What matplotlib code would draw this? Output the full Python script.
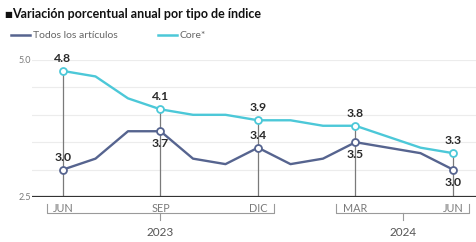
import matplotlib.pyplot as plt
import matplotlib.transforms as mtransforms

plt.rcParams['font.family'] = ['Lato', 'DejaVu Sans']

# datos (jun 2023 - jun 2024)
meses = ['JUN', 'JUL', 'AGO', 'SEP', 'OCT', 'NOV', 'DIC', 'ENE', 'FEB', 'MAR', 'ABR', 'MAY', 'JUN']
todos = [3.0, 3.2, 3.7, 3.7, 3.2, 3.1, 3.4, 3.1, 3.2, 3.5, 3.4, 3.3, 3.0]
core = [4.8, 4.7, 4.3, 4.1, 4.0, 4.0, 3.9, 3.9, 3.8, 3.8, 3.6, 3.4, 3.3]
marcados = [0, 3, 6, 9, 12]
todos_abajo = [3, 9, 12]   # etiquetas de "todos" debajo del punto
anios = ['2023', '2024']
anios_rango = [(-0.5, 6.5), (8.4, 12.5)]

c_todos = '#56648f'
c_core = '#4cc8d8'
gris = '#7a7a7a'
texto = '#2b2b2b'

W, H = 477, 242
fig = plt.figure(figsize=(W / 100, H / 100), dpi=100)
ax = fig.add_axes([32 / W, 45 / H, 445 / W, 137 / H])

x = list(range(len(meses)))
ax.set_xlim(-31 / 32.5, 12 + 24 / 32.5)
ax.set_ylim(2.5, 5.0)

for v in [3.0, 3.5, 4.0, 4.5, 5.0]:
    ax.axhline(v, color='#ececec', lw=0.8, zorder=0)

for i in marcados:
    ax.plot([i, i], [2.5, core[i]], color=gris, lw=0.9, zorder=1)

ax.plot(x, todos, color=c_todos, lw=1.7, zorder=2)
ax.plot(x, core, color=c_core, lw=1.7, zorder=2)
ax.plot(marcados, [todos[i] for i in marcados], 'o', ms=5, mfc='white', mec=c_todos, mew=1.3, zorder=3)
ax.plot(marcados, [core[i] for i in marcados], 'o', ms=5, mfc='white', mec=c_core, mew=1.3, zorder=3)

for i in marcados:
    ax.annotate(f'{core[i]:.1f}', (i, core[i]), xytext=(0, 5), textcoords='offset points',
                ha='center', va='bottom', fontsize=8.8, fontweight='bold', color=texto)
    dy = -5 if i in todos_abajo else 5
    ax.annotate(f'{todos[i]:.1f}', (i, todos[i]), xytext=(0, dy), textcoords='offset points',
                ha='center', va='top' if dy < 0 else 'bottom', fontsize=8.8, fontweight='bold', color=texto)

ax.axhline(2.5, color='#333333', lw=1.6, zorder=4)

for s in ax.spines.values():
    s.set_visible(False)
ax.set_xticks([])
ax.set_yticks([])

# etiquetas eje y
for v in [2.5, 5.0]:
    ax.text(-0.99, v, f'{v:.1f}', ha='right', va='center', fontsize=6.5, color=gris)

tr = mtransforms.blended_transform_factory(ax.transData, fig.transFigure)
def fy(py):
    return 1 - py / H

for i in marcados:
    ax.text(i, fy(208), meses[i], ha='center', va='center', fontsize=7.8, color=gris, transform=tr)

for anio, (a, b) in zip(anios, anios_rango):
    ax.plot([a, a, b, b], [fy(204), fy(213), fy(213), fy(204)], color='#9a9a9a', lw=0.8,
            transform=tr, clip_on=False)
    m = (a + b) / 2
    ax.plot([m, m], [fy(213), fy(220)], color='#9a9a9a', lw=0.8, transform=tr, clip_on=False)
    ax.text(m, fy(233), anio, ha='center', va='center', fontsize=8.5, color='#555555', transform=tr)

# titulo y leyenda
fig.text(4 / W, fy(14), '■', fontsize=6, color='#111111', va='center', ha='left',
         family=['DejaVu Sans'])
fig.text(12 / W, fy(14), 'Variación porcentual anual por tipo de índice', fontsize=9,
         fontweight='bold', color='#111111', va='center', ha='left')
fig.add_artist(plt.Line2D([11 / W, 30 / W], [fy(35), fy(35)], color=c_todos, lw=1.8))
fig.text(33 / W, fy(35), 'Todos los artículos', fontsize=7.5, color='#666666', va='center', ha='left')
fig.add_artist(plt.Line2D([158 / W, 177 / W], [fy(35), fy(35)], color=c_core, lw=1.8))
fig.text(180 / W, fy(35), 'Core*', fontsize=7.5, color='#666666', va='center', ha='left')

fig.savefig('out.png', dpi=100, facecolor='white')
